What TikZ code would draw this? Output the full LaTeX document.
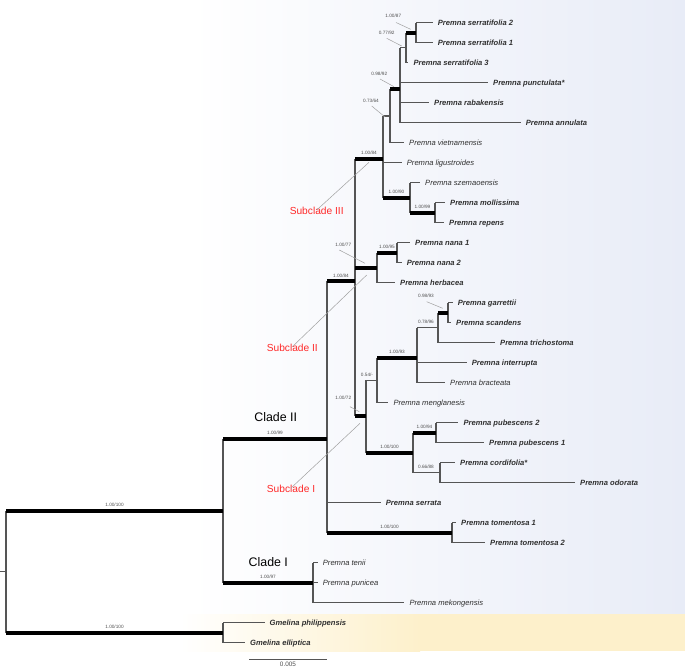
\documentclass[tikz,border=0pt]{standalone}
\usepackage{fontspec}
\setmainfont{Liberation Sans}
\definecolor{bgblue}{HTML}{E8ECF7}
\definecolor{bgyel}{HTML}{FDF0CB}
\definecolor{txt}{HTML}{303030}
\definecolor{lin}{HTML}{555555}
\definecolor{ptrc}{HTML}{A0A0A0}
\definecolor{cladered}{HTML}{FF2A2A}
\begin{document}
\begin{tikzpicture}[x=1pt,y=-1pt,
  vt/.style={draw=lin,line width=1.1pt},
  br/.style={draw=lin,line width=1.1pt},
  tbr/.style={draw=black,line width=4pt},
  lf/.style={anchor=west,inner xsep=5pt,inner ysep=0pt,text height=5.5pt,text depth=0pt,text=txt,font=\fontsize{7.6}{9}\selectfont\itshape},
  lfb/.style={lf,font=\fontsize{7.6}{9}\selectfont\bfseries\itshape},
  sl/.style={inner sep=0pt,text=txt!85,font=\fontsize{4.7}{5}\selectfont},
  ptr/.style={draw=ptrc,line width=0.5pt},
  subc/.style={inner sep=0pt,text=cladered,font=\fontsize{10.2}{12}\selectfont},
  cladel/.style={inner sep=0pt,text=black,font=\fontsize{12.4}{14}\selectfont}]
\useasboundingbox (0,0) rectangle (685,667);
% backgrounds
\shade[left color=white,right color=bgblue] (190,0) rectangle (685,614);
\shade[left color=white,right color=bgyel] (180,614) rectangle (420,651);
\fill[bgyel] (419.5,614) rectangle (685,651);
% internal nodes
\coordinate (rt) at (0,571.7);
\coordinate (R) at (6,571.7);
\coordinate (A) at (223,510.75);
\coordinate (G) at (223,632.7);
\coordinate (C2) at (327,438.8);
\coordinate (C1) at (313,582.7);
\coordinate (n84a) at (355,281);
\coordinate (n84b) at (383,158.8);
\coordinate (n73) at (390,116);
\coordinate (n98) at (400,89);
\coordinate (n77) at (406,47.7);
\coordinate (n87) at (416,32.7);
\coordinate (n90) at (410,197.7);
\coordinate (n99) at (435,212.7);
\coordinate (n77b) at (377,267.7);
\coordinate (n95) at (397,252.7);
\coordinate (n72) at (366,416.4);
\coordinate (n54) at (377,380.2);
\coordinate (n93) at (417,357.7);
\coordinate (n7896) at (438,327.7);
\coordinate (n9893) at (448,312.7);
\coordinate (n100a) at (413,452.7);
\coordinate (n94) at (436,432.7);
\coordinate (n88) at (440,472.7);
\coordinate (n100t) at (452,532.7);
% leaves
\node[lfb] (serr2) at (432.7,22.7) {Premna serratifolia 2};
\node[lfb] (serr1) at (432.7,42.7) {Premna serratifolia 1};
\node[lfb] (serr3) at (408.3,62.7) {Premna serratifolia 3};
\node[lfb] (punct) at (488,82.7) {Premna punctulata*};
\node[lfb] (rabak) at (429,102.7) {Premna rabakensis};
\node[lfb] (annul) at (520.7,122.7) {Premna annulata};
\node[lf] (vietn) at (404,142.7) {Premna vietnamensis};
\node[lf] (ligus) at (401.7,162.7) {Premna ligustroides};
\node[lf] (szem) at (420,182.7) {Premna szemaoensis};
\node[lfb] (moll) at (445,202.7) {Premna mollissima};
\node[lfb] (repens) at (444,222.7) {Premna repens};
\node[lfb] (nana1) at (410,242.7) {Premna nana 1};
\node[lfb] (nana2) at (401.7,262.7) {Premna nana 2};
\node[lfb] (herb) at (395,282.7) {Premna herbacea};
\node[lfb] (garr) at (452.7,302.7) {Premna garrettii};
\node[lfb] (scand) at (451,322.7) {Premna scandens};
\node[lfb] (trich) at (495,342.7) {Premna trichostoma};
\node[lfb] (interr) at (466.7,362.7) {Premna interrupta};
\node[lf] (bract) at (445,382.7) {Premna bracteata};
\node[lf] (mengl) at (388.3,402.7) {Premna menglanesis};
\node[lfb] (pub2) at (458.3,422.7) {Premna pubescens 2};
\node[lfb] (pub1) at (484,442.7) {Premna pubescens 1};
\node[lfb] (cord) at (455,462.7) {Premna cordifolia*};
\node[lfb] (odor) at (575,482.7) {Premna odorata};
\node[lfb] (serrata) at (380.7,502.7) {Premna serrata};
\node[lfb] (tom1) at (456,522.7) {Premna tomentosa 1};
\node[lfb] (tom2) at (485,542.7) {Premna tomentosa 2};
\node[lf] (tenii) at (317.7,562.7) {Premna tenii};
\node[lf] (punicea) at (317.7,582.7) {Premna punicea};
\node[lf] (mekong) at (404.4,602.7) {Premna mekongensis};
\node[lfb] (phil) at (264.5,622.7) {Gmelina philippensis};
\node[lfb] (ellip) at (245,642.7) {Gmelina elliptica};
% verticals
\draw[vt] (R |- A) -- (R |- G);
\draw[vt] (A |- C2) -- (A |- C1);
\draw[vt] (G |- phil.west) -- (G |- ellip.west);
\draw[vt] (C1 |- tenii.west) -- (C1 |- mekong.west);
\draw[vt] (C2 |- n84a) -- (C2 |- n100t);
\draw[vt] (n100t |- tom1.west) -- (n100t |- tom2.west);
\draw[vt] (n84a |- n84b) -- (n84a |- n72);
\draw[vt] (n84b |- n73) -- (n84b |- n90);
\draw[vt] (n73 |- n98) -- (n73 |- vietn.west);
\draw[vt] (n98 |- n77) -- (n98 |- annul.west);
\draw[vt] (n77 |- n87) -- (n77 |- serr3.west);
\draw[vt] (n87 |- serr2.west) -- (n87 |- serr1.west);
\draw[vt] (n90 |- szem.west) -- (n90 |- n99);
\draw[vt] (n99 |- moll.west) -- (n99 |- repens.west);
\draw[vt] (n77b |- n95) -- (n77b |- herb.west);
\draw[vt] (n95 |- nana1.west) -- (n95 |- nana2.west);
\draw[vt] (n72 |- n54) -- (n72 |- n100a);
\draw[vt] (n54 |- n93) -- (n54 |- mengl.west);
\draw[vt] (n93 |- n7896) -- (n93 |- bract.west);
\draw[vt] (n7896 |- n9893) -- (n7896 |- trich.west);
\draw[vt] (n9893 |- garr.west) -- (n9893 |- scand.west);
\draw[vt] (n100a |- n94) -- (n100a |- n88);
\draw[vt] (n94 |- pub2.west) -- (n94 |- pub1.west);
\draw[vt] (n88 |- cord.west) -- (n88 |- odor.west);
% thin horizontals
\draw[br] (rt) -- (R);
\foreach \p/\c in {G/phil,G/ellip,C1/tenii,C1/punicea,C1/mekong,C2/serrata,n100t/tom1,n100t/tom2,
  n84b/ligus,n73/vietn,n98/punct,n98/rabak,n98/annul,n77/serr3,n87/serr2,n87/serr1,n90/szem,
  n99/moll,n99/repens,n77b/herb,n95/nana1,n95/nana2,n54/mengl,n93/interr,n93/bract,n7896/trich,
  n9893/garr,n9893/scand,n94/pub2,n94/pub1,n88/cord,n88/odor}
  {\draw[br] (\p |- \c.west) -- (\c.west);}
\foreach \p/\c in {n84b/n73,n98/n77,n72/n54,n93/n7896,n100a/n88}
  {\draw[br] (\p |- \c) -- (\c);}
% thick horizontals
\foreach \p/\c in {R/A,R/G,A/C2,A/C1,C2/n84a,C2/n100t,n84a/n84b,n84a/n77b,n84a/n72,n84b/n90,
  n90/n99,n73/n98,n77/n87,n77b/n95,n54/n93,n7896/n9893,n72/n100a,n100a/n94}
  {\draw[tbr] (\p |- \c) -- (\c);}
% support labels on branches
\node[sl] (s1) at (114.5,505.3) {1.00/100};
\node[sl] (s2) at (114.5,627.2) {1.00/100};
\node[sl] (s3) at (275,433.3) {1.00/99};
\node[sl] (s4) at (268,577.2) {1.00/97};
\node[sl] (s5) at (341,275.5) {1.00/84};
\node[sl] (s6) at (369,153) {1.00/84};
\node[sl] (s7) at (396.5,192) {1.00/90};
\node[sl] (s8) at (422.5,207.2) {1.00/99};
\node[sl] (s9) at (387,247.2) {1.00/95};
\node[sl] (s10) at (397,352.2) {1.00/93};
\node[sl] (s11) at (426,322) {0.78/96};
\node[sl] (s12) at (367,375) {0.54/-};
\node[sl] (s13) at (389.5,447.2) {1.00/100};
\node[sl] (s14) at (424.5,426.5) {1.00/94};
\node[sl] (s15) at (426,467.2) {0.66/88};
\node[sl] (s16) at (389.5,527.2) {1.00/100};
% support labels with pointers
\node[sl] (s87) at (393.3,16) {1.00/87};
\node[sl] (s7792) at (386.7,32.7) {0.77/92};
\node[sl] (s9892) at (379.3,74) {0.98/92};
\node[sl] (s7364) at (371,100.7) {0.73/64};
\node[sl] (s77) at (343.3,245) {1.00/77};
\node[sl] (s72) at (343.3,398.3) {1.00/72};
\node[sl] (s9893) at (426,296) {0.98/93};
\coordinate (q1a) at (396,22.5); \coordinate (q1b) at (410.7,29.3);
\coordinate (q2a) at (386.7,38.3); \coordinate (q2b) at (401.7,46);
\coordinate (q3a) at (380,79); \coordinate (q3b) at (394,86.7);
\coordinate (q4a) at (371.7,106); \coordinate (q4b) at (385,117);
\coordinate (q5a) at (339.3,250); \coordinate (q5b) at (365,263.3);
\coordinate (q6a) at (350,406.7); \coordinate (q6b) at (359.3,411.7);
\coordinate (q7a) at (426.7,301.7); \coordinate (q7b) at (442.7,308.3);
\foreach \a/\b in {q1a/q1b,q2a/q2b,q3a/q3b,q4a/q4b,q5a/q5b,q6a/q6b,q7a/q7b}
  {\draw[ptr] (\a) -- (\b);}
% clade labels
\node[cladel] (cl2) at (275.7,417.3) {Clade II};
\node[cladel] (cl1) at (268.3,561.7) {Clade I};
\node[subc] (sc3) at (316.7,211) {Subclade III};
\node[subc] (sc2) at (292.3,347.7) {Subclade II};
\node[subc] (sc1) at (291,489) {Subclade I};
\coordinate (t3) at (369,162.3);
\coordinate (t2) at (366.7,275);
\coordinate (t1) at (360,423.3);
\draw[ptr] ([yshift=-3pt]sc3.north) -- (t3);
\draw[ptr] ([yshift=-3pt]sc2.north) -- (t2);
\draw[ptr] ([yshift=-3pt]sc1.north) -- (t1);
% scale bar
\coordinate (sbl) at (249,659);
\coordinate (sbr) at (327,659);
\draw[draw=lin,line width=0.8pt] (sbl) -- (sbr);
\node[sl,font=\fontsize{6.4}{7}\selectfont] (sbt) at (288,664.3) {0.005};
\end{tikzpicture}
\end{document}
